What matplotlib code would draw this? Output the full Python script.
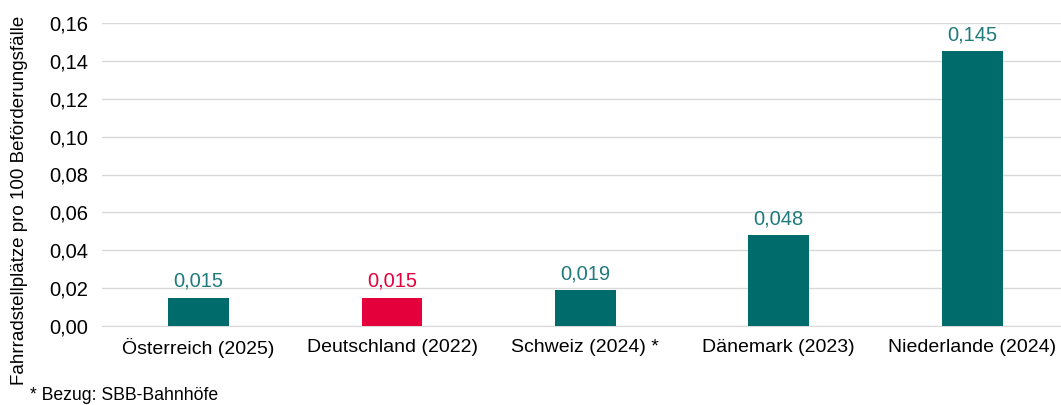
import matplotlib.pyplot as plt
from matplotlib.ticker import FuncFormatter

plt.rcParams['font.family'] = ['Liberation Sans', 'DejaVu Sans']

categories = ["Österreich (2025)", "Deutschland (2022)", "Schweiz (2024) *", "Dänemark (2023)", "Niederlande (2024)"]
values = [0.015, 0.015, 0.019, 0.048, 0.145]
value_labels = ["0,015", "0,015", "0,019", "0,048", "0,145"]

teal = "#006B6B"
red = "#E4003A"
bar_colors = [teal, red, teal, teal, teal]
label_colors = ["#1F7A7A", red, "#1F7A7A", "#1F7A7A", "#1F7A7A"]

fig = plt.figure(figsize=(10.61, 4.05), dpi=100)
ax = fig.add_axes([102 / 1061, 1 - 326 / 405, 1 - 102 / 1061, 303 / 405])

x = range(len(categories))
ax.bar(x, values, width=0.315, color=bar_colors, zorder=3)

for i, (v, lab) in enumerate(zip(values, value_labels)):
    ax.annotate(lab, (i, v), xytext=(0, 5), textcoords="offset points",
                ha="center", va="bottom", fontsize=14.5, color=label_colors[i])

ax.set_ylim(0, 0.16)
ax.set_xlim(-0.5, 4.46)
ax.set_yticks([0.0, 0.02, 0.04, 0.06, 0.08, 0.10, 0.12, 0.14, 0.16])
ax.yaxis.set_major_formatter(FuncFormatter(lambda v, p: f"{v:.2f}".replace(".", ",")))
ax.set_xticks(list(x))
ax.set_xticklabels(categories, fontsize=14)
ax.tick_params(axis="y", labelsize=14.5)
ax.tick_params(axis="both", length=0, colors="#000000")
ax.tick_params(axis="x", pad=9)
ax.tick_params(axis="y", pad=10)
ax.grid(axis="y", color="#D9D9D9", linewidth=1, zorder=0)
for s in ["top", "right", "left"]:
    ax.spines[s].set_visible(False)
ax.spines["bottom"].set_color("#D9D9D9")

fig.text(20 / 1061, 1 - 200 / 405, "Fahrradstellplätze pro 100 Beförderungsfälle",
         rotation=90, fontsize=13.5, ha="center", va="center")

fig.text(30 / 1061, 1 - 395 / 405, "* Bezug: SBB-Bahnhöfe", fontsize=12.7, va="center", ha="left")

fig.savefig("out.png", dpi=100)
